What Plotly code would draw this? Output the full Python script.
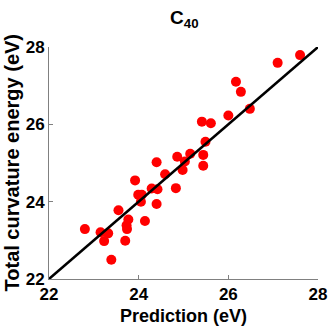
import plotly.graph_objects as go

# prediction vs. total curvature energy (eV)
prediction = [27.60, 27.10, 26.17, 26.28, 26.48, 26.00, 25.41, 25.61, 25.49, 25.15,
              25.44, 24.86, 25.03, 24.40, 25.44, 24.98, 24.59, 23.92, 24.83, 24.29,
              24.42, 23.99, 24.07, 24.05, 24.40, 23.55, 23.77, 24.14, 23.73, 23.74,
              22.80, 23.15, 23.32, 23.23, 23.70, 23.39]
energy = [27.79, 27.59, 27.10, 26.84, 26.40, 26.23, 26.07, 26.03, 25.55, 25.24,
          25.21, 25.16, 25.04, 25.02, 24.93, 24.82, 24.71, 24.55, 24.35, 24.34,
          24.32, 24.18, 24.18, 24.00, 23.94, 23.78, 23.54, 23.50, 23.39, 23.29,
          23.29, 23.21, 23.18, 22.98, 22.99, 22.50]
diag = [22, 28]
ticks = [22, 24, 26, 28]

FONT = "Liberation Sans, Arial, sans-serif"

def bold(size):
    return dict(family=FONT, size=size, color="black", weight="bold")

fig = go.Figure()
fig.add_trace(go.Scatter(
    x=prediction, y=energy, mode="markers",
    marker=dict(color="#ff0000", size=10, line=dict(width=0)),
    cliponaxis=False,
))
fig.add_trace(go.Scatter(
    x=diag, y=diag, mode="lines",
    line=dict(color="black", width=2.5),
))

axis_common = dict(
    range=[22, 28],
    tickvals=ticks,
    ticks="inside",
    ticklen=4,
    tickcolor="#808080",
    showline=True,
    linecolor="#808080",
    linewidth=1,
    showgrid=False,
    zeroline=False,
    automargin=False,
    tickfont=bold(17),
)

# titles placed as annotations so the plot area keeps its position
fig.add_annotation(text="C<sub>40</sub>", xref="paper", yref="paper",
                   x=0.505, y=1.18, xanchor="center", yanchor="top",
                   showarrow=False, font=bold(19))
fig.add_annotation(text="Prediction (eV)", xref="paper", yref="paper",
                   x=0.5, y=-0.159, xanchor="center", yanchor="middle",
                   showarrow=False, font=bold(18))
fig.add_annotation(text="Total curvature energy (eV)", xref="paper", yref="paper",
                   x=-0.1375, y=0.498, xanchor="center", yanchor="middle",
                   textangle=-90, showarrow=False, font=bold(20))

fig.update_layout(
    width=332, height=332,
    margin=dict(l=49, r=14, t=47, b=53),
    showlegend=False,
    plot_bgcolor="white",
    paper_bgcolor="white",
    xaxis=axis_common,
    yaxis=axis_common,
)

fig.write_html("out.html",
               config={"displayModeBar": False},
               post_script="document.body.style.margin='0';"
                           "document.body.style.overflow='hidden';")
